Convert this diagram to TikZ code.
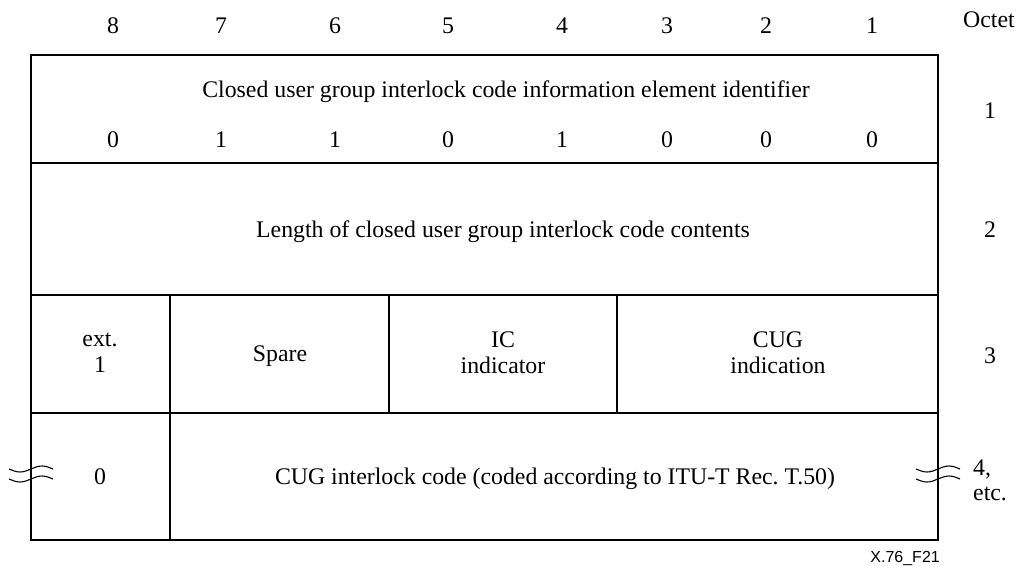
\documentclass[tikz,border=0pt]{standalone}
\usepackage{fontspec}
\setmainfont{Liberation Serif}
\newfontfamily\arialfont{Liberation Sans}
\frenchspacing
\begin{document}
\begin{tikzpicture}[x=1pt,y=-1pt,
  frame/.style={line width=1.4pt},
  lbl/.style={font=\fontsize{23.8}{27}\selectfont, inner sep=0pt, anchor=base},
  twoline/.style={font=\fontsize{23.8}{26}\selectfont, inner sep=0pt, anchor=center, align=center},
  brk/.style={line width=1.1pt}]
\useasboundingbox (0,0) rectangle (1022,565);
% bit numbers
\foreach \n/\x in {8/113,7/221,6/335,5/448,4/562,3/667,2/766,1/872}
  \node[lbl] (b\n) at (\x,33) {\n};
\node[lbl] (octet) at (989,27) {Octet};
% frame
\coordinate (tl) at (31,55);
\coordinate (br) at (938,540);
\draw[frame] (tl) rectangle (br);
\draw[frame] (31,163) -- (938,163);
\draw[frame] (31,295) -- (938,295);
\draw[frame] (31,413) -- (938,413);
\draw[frame] (170,295) -- (170,540);
\draw[frame] (389,295) -- (389,413);
\draw[frame] (617,295) -- (617,413);
% row 1
\node[lbl] (t1) at (506,97) {Closed user group interlock code information element identifier};
\foreach \v/\x [count=\i] in {0/113,1/221,1/335,0/448,1/562,0/667,0/766,0/872}
  \node[lbl] (v\i) at (\x,147) {\v};
\node[lbl] (o1) at (990,118) {1};
% row 2
\node[lbl] (t2) at (503,237) {Length of closed user group interlock code contents};
\node[lbl] (o2) at (990,237) {2};
% row 3
\node[twoline] (ext) at (100,353) {ext.\\1};
\node[lbl] (spare) at (280,361) {Spare};
\node[twoline] (ic) at (503,353) {IC\\indicator};
\node[twoline] (cug) at (778,353) {CUG\\indication};
\node[lbl] (o3) at (990,363) {3};
% row 4
\node[lbl] (zero) at (100,484) {0};
\node[lbl] (t4) at (555,484) {CUG interlock code (coded according to ITU-T Rec. T.50)};
\node[lbl, anchor=base west] (o4a) at (973,475) {4,};
\node[lbl, anchor=base west] (o4b) at (973,500) {etc.};
% break marks
\foreach \cx in {31,938} {
  \foreach \cy in {469,479} {
    \draw[brk] (\cx-22,\cy) sin (\cx-11,\cy+3) cos (\cx,\cy) sin (\cx+11,\cy-3) cos (\cx+22,\cy);
  }
}
\node[font=\arialfont\fontsize{16}{18}\selectfont, inner sep=0pt, anchor=base east] (fig) at (940,562) {X.76\_F21};
\end{tikzpicture}
\end{document}
